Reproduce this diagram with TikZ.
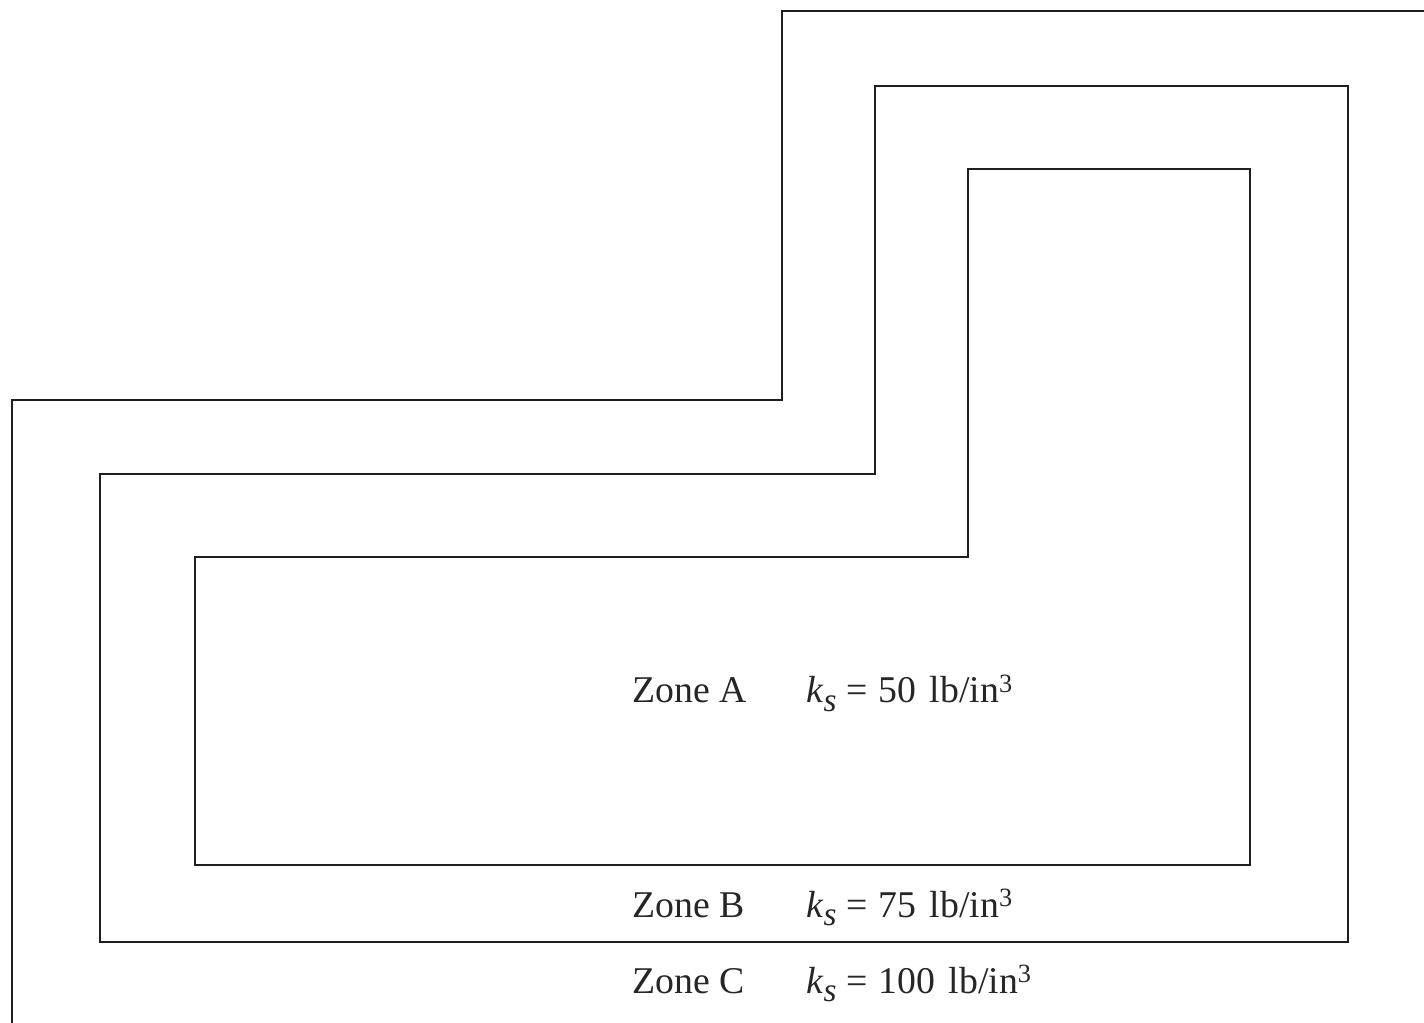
\documentclass[tikz,border=0pt]{standalone}
\usepackage{fontspec}
\setmainfont{Liberation Serif}
\usetikzlibrary{positioning}
\tikzset{
	zone/.style={line width=1.4pt, color=black!88},
	zonelabel/.style={anchor=base west, inner sep=0pt, font=\fontsize{21.5}{26}\selectfont, color=black!85}
}
\newcommand{\ksval}[1]{\textit{k}\raisebox{-0.5ex}{\fontsize{19}{19}\selectfont\textit{s}}\hspace{0.25em}=\hspace{0.3em}#1\hspace{0.1em} lb/in\raisebox{0.6ex}{\fontsize{15}{15}\selectfont 3}}

\begin{document}
\begin{tikzpicture}[x=0.02cm, y=-0.02cm]
		%%%%% START %%%%%
		\useasboundingbox (0, 0) rectangle (1424, 1023);
		
		% zone C edge (open)
		\draw[zone] (12, 1023) -- (12, 400) -- (782, 400) -- (782, 11) -- (1424, 11);
		
		% zone B edge
		\draw[zone] (100, 942) -- (100, 474) -- (875, 474) -- (875, 86) -- (1348, 86) -- (1348, 942) -- cycle;
		
		% zone A edge
		\draw[zone] (195, 865) -- (195, 557) -- (968, 557) -- (968, 169) -- (1250, 169) -- (1250, 865) -- cycle;
		
		\node[zonelabel] (zoneA) at (632, 703) {Zone A};
		\node[zonelabel] (ksA) at (806, 703) {\ksval{50}};
		
		\node[zonelabel] (zoneB) at (632, 917) {Zone B};
		\node[zonelabel] (ksB) at (806, 917) {\ksval{75}};
		
		\node[zonelabel] (zoneC) at (632, 993) {Zone C};
		\node[zonelabel] (ksC) at (806, 993) {\ksval{100}};
		
		%%%%% END %%%%%
\end{tikzpicture}
\end{document}
